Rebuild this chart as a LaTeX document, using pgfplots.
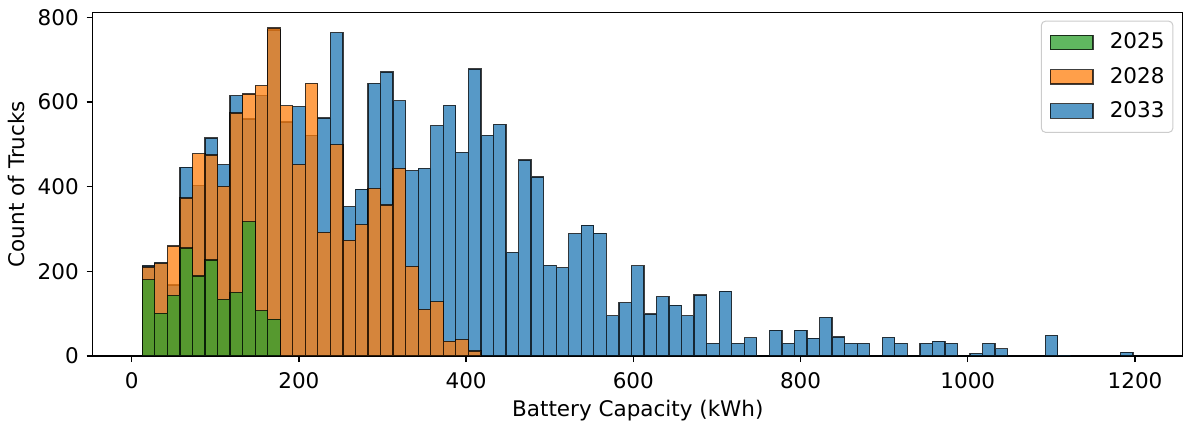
\documentclass[border=0pt]{standalone}
\usepackage{pgfplots}
\usepackage{pgfplotstable}
\pgfplotsset{compat=1.18}
\usepackage{fontspec}
\setmainfont{DejaVu Sans}
\definecolor{c0}{HTML}{1F77B4}
\definecolor{c1}{HTML}{FF7F0E}
\definecolor{c2}{HTML}{2CA02C}

% left bin edge, count (last row = right edge of last bin)
\pgfplotstableread{
x y
12.7 214
27.7 221
42.7 168
57.7 446
72.7 402
87.7 515
102.7 452
117.7 615
132.7 560
147.7 615
162.7 770
177.7 553
192.7 589
207.7 521
222.7 562
237.7 764
252.7 353
267.7 394
282.7 644
297.7 671
312.7 603
327.7 438
342.7 443
357.7 544
372.7 592
387.7 481
402.7 678
417.7 521
432.7 547
447.7 245
462.7 463
477.7 423
492.7 214
507.7 209
522.7 289
537.7 309
552.7 290
567.7 95
582.7 126
597.7 213
612.7 99
627.7 140
642.7 120
657.7 95
672.7 144
687.7 30
702.7 153
717.7 30
732.7 43
747.7 0
762.7 61
777.7 30
792.7 61
807.7 42
822.7 91
837.7 45
852.7 30
867.7 30
882.7 0
897.7 44
912.7 30
927.7 0
942.7 30
957.7 35
972.7 30
987.7 0
1002.7 6
1017.7 30
1032.7 17
1047.7 0
1062.7 0
1077.7 0
1092.7 49
1107.7 2
1122.7 0
1137.7 0
1152.7 0
1167.7 0
1182.7 9
1197.7 0
}\dataB

\pgfplotstableread{
x y
12.7 210
27.7 219
42.7 260
57.7 373
72.7 478
87.7 475
102.7 401
117.7 574
132.7 619
147.7 639
162.7 775
177.7 591
192.7 452
207.7 644
222.7 292
237.7 499
252.7 273
267.7 310
282.7 396
297.7 357
312.7 443
327.7 212
342.7 110
357.7 128
372.7 35
387.7 39
402.7 12
417.7 0
}\dataO

\pgfplotstableread{
x y
12.7 180
27.7 101
42.7 143
57.7 255
72.7 189
87.7 227
102.7 134
117.7 150
132.7 317
147.7 107
162.7 87
177.7 0
}\dataG

\begin{document}
\begin{tikzpicture}
\begin{axis}[
  at={(0pt,0pt)}, anchor=south west,
  scale only axis, width=545.15pt, height=171.85pt,
  xmin=-46.6, xmax=1257.4, ymin=0, ymax=812,
  xtick={0,200,...,1200}, ytick={0,200,...,800},
  tick align=outside, tick pos=left,
  major tick length=3.04pt,
  every tick/.style={black, line width=0.7pt},
  axis line style={black, line width=0.7pt},
  /pgf/number format/assume math mode=true,
  /pgf/number format/set thousands separator={},
  ticklabel style={font=\fontsize{10.75}{12}\selectfont, inner sep=0pt},
  xticklabel style={anchor=north, yshift=-4.8pt},
  yticklabel style={anchor=east, xshift=-3.75pt},
  xlabel={Battery Capacity (kWh)},
  ylabel={Count of Trucks},
  label style={font=\fontsize{10.75}{12}\selectfont},
  xlabel style={at={(axis description cs:0.5,-0.1766)}, anchor=base},
  ylabel style={at={(axis description cs:-0.0621,0.5)}, anchor=base},
  reverse legend,
  legend cell align=left,
  legend image code/.code={\draw[#1, sharp corners] (0pt,-3.575pt) rectangle (21.3pt,3.575pt);},
  legend style={at={(rel axis cs:1,1)}, anchor=north east, xshift=-4.85pt, yshift=-4.2pt,
    draw=black!20, line width=0.5pt, rounded corners=2pt,
    font=\fontsize{10.75}{12}\selectfont,
    nodes={inner sep=0pt},
    inner xsep=4.15pt, inner ysep=5.9pt, row sep=7.66pt,
    /tikz/every odd column/.style={column sep=8.1pt}},
]
\addplot[ybar interval, fill=c0, fill opacity=0.75, draw=black, draw opacity=0.75, line width=0.63pt] table[x=x,y=y] {\dataB};
\addlegendentry{2033}
\addplot[ybar interval, fill=c1, fill opacity=0.75, draw=black, draw opacity=0.75, line width=0.63pt] table[x=x,y=y] {\dataO};
\addlegendentry{2028}
\addplot[ybar interval, fill=c2, fill opacity=0.75, draw=black, draw opacity=0.75, line width=0.63pt] table[x=x,y=y] {\dataG};
\addlegendentry{2025}
\end{axis}
\pgfresetboundingbox
\path (-46.35pt,-32.5pt) rectangle (545.15pt,178pt);
\end{tikzpicture}
\end{document}
